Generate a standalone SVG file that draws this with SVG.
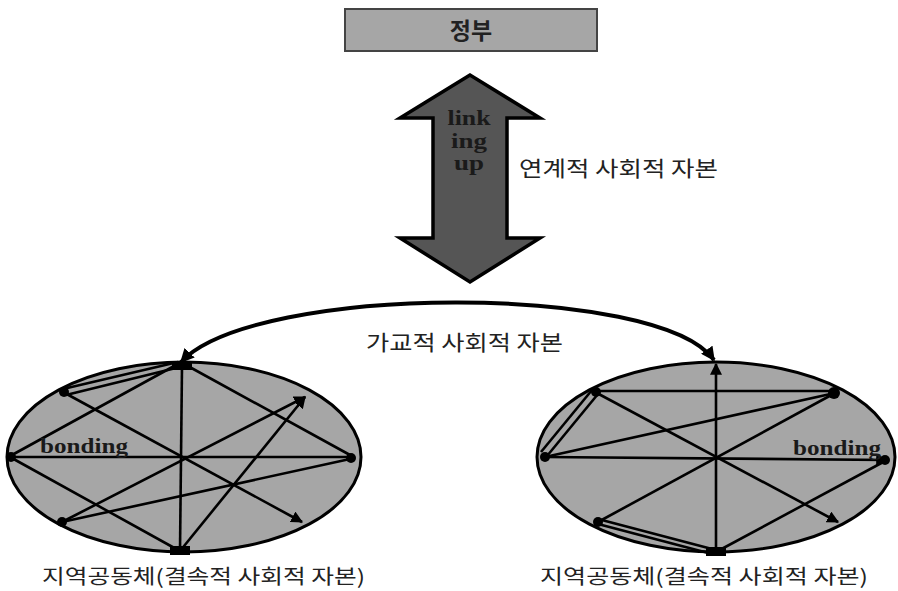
<svg xmlns="http://www.w3.org/2000/svg" width="898" height="591" viewBox="0 0 898 591">
<style>
.kr{font-family:"Noto Sans CJK KR","Noto Sans",sans-serif;fill:#222;}
.en{font-family:"Liberation Serif","DejaVu Serif",serif;font-weight:bold;fill:#1a1a1a;}
.ln{stroke:#000;stroke-width:2.6;fill:none;}
.ell{fill:#a6a6a6;stroke:#000;stroke-width:3;}
.blob{fill:#000;}
</style>
<defs>
<marker id="ah" viewBox="0 0 10 10" refX="9" refY="5" markerWidth="12" markerHeight="12" markerUnits="userSpaceOnUse" orient="auto">
<path d="M0,0 L10,5 L0,10 Z" fill="#000"/>
</marker>
<marker id="ah2" viewBox="0 0 10 10" refX="9" refY="5" markerWidth="14" markerHeight="14" markerUnits="userSpaceOnUse" orient="auto-start-reverse">
<path d="M0,0 L10,5 L0,10 Z" fill="#000"/>
</marker>
</defs>
<rect width="898" height="591" fill="#fff"/>

<g id="gov">
<rect x="345" y="9" width="252" height="42" fill="#a6a6a6" stroke="#444" stroke-width="2"/>
<text x="471" y="39" text-anchor="middle" class="kr" font-size="23" font-weight="bold" fill="#111">정부</text>
</g>

<g id="linking">
<polygon points="470,75 400,118 433,118 433,238 400,238 470,282 540,238 507,238 507,118 540,118" fill="#555" stroke="#000" stroke-width="3.5" stroke-linejoin="miter"/>
<text x="469" y="125" text-anchor="middle" class="en" font-size="21" textLength="43" lengthAdjust="spacingAndGlyphs">link</text>
<text x="469" y="148" text-anchor="middle" class="en" font-size="21" textLength="36" lengthAdjust="spacingAndGlyphs">ing</text>
<text x="469" y="170" text-anchor="middle" class="en" font-size="21" textLength="30" lengthAdjust="spacingAndGlyphs">up</text>
<text x="519" y="176" class="kr" font-size="21" textLength="199" lengthAdjust="spacingAndGlyphs">연계적 사회적 자본</text>
</g>

<g id="connectors">
<path d="M181,362 C255,283 660,283 714,360" stroke="#000" stroke-width="4" fill="none" marker-start="url(#ah2)" marker-end="url(#ah2)"/>
</g>
<text x="366" y="350" class="kr" font-size="21" textLength="197" lengthAdjust="spacingAndGlyphs">가교적 사회적 자본</text>

<g id="community-left">
<ellipse cx="184" cy="457" rx="177" ry="95" class="ell"/>
<line x1="182" y1="366" x2="180" y2="551" class="ln"/>
<line x1="10" y1="457" x2="352" y2="457" class="ln"/>
<line x1="178" y1="362" x2="63" y2="389" class="ln"/>
<line x1="180" y1="367" x2="66" y2="395" class="ln"/>
<line x1="176" y1="365" x2="12" y2="455" class="ln"/>
<line x1="63" y1="392" x2="302" y2="522" class="ln" marker-end="url(#ah)"/>
<line x1="186" y1="365" x2="350" y2="455" class="ln"/>
<line x1="62" y1="522" x2="305" y2="397" class="ln" marker-end="url(#ah)"/>
<line x1="180" y1="551" x2="305" y2="397" class="ln" marker-end="url(#ah)"/>
<line x1="10" y1="457" x2="178" y2="550" class="ln"/>
<line x1="62" y1="522" x2="350" y2="459" class="ln"/>
<rect x="172" y="362" width="20" height="8" class="blob"/>
<circle cx="64" cy="392" r="5" class="blob"/>
<circle cx="11" cy="457" r="5" class="blob"/>
<circle cx="351" cy="458" r="5" class="blob"/>
<circle cx="62" cy="522" r="5" class="blob"/>
<rect x="170" y="546" width="20" height="9" class="blob"/>
<text x="40" y="453" class="en" font-size="20" textLength="88" lengthAdjust="spacingAndGlyphs">bonding</text>
<text x="42" y="584" class="kr" font-size="20" textLength="323" lengthAdjust="spacingAndGlyphs">지역공동체(결속적 사회적 자본)</text>
</g>

<g id="community-right">
<ellipse cx="716" cy="457" rx="179" ry="95" class="ell"/>
<line x1="716" y1="552" x2="716" y2="364" class="ln" marker-end="url(#ah)"/>
<line x1="545" y1="457" x2="887" y2="460" class="ln" marker-end="url(#ah)"/>
<line x1="595" y1="391" x2="835" y2="391" class="ln"/>
<line x1="592" y1="390" x2="541" y2="452" class="ln"/>
<line x1="598" y1="394" x2="547" y2="456" class="ln"/>
<line x1="595" y1="392" x2="838" y2="522" class="ln" marker-end="url(#ah)"/>
<line x1="545" y1="457" x2="835" y2="393" class="ln"/>
<line x1="598" y1="522" x2="835" y2="393" class="ln"/>
<line x1="598" y1="519" x2="712" y2="549" class="ln"/>
<line x1="598" y1="524" x2="712" y2="554" class="ln"/>
<line x1="716" y1="552" x2="887" y2="460" class="ln"/>
<circle cx="596" cy="392" r="5" class="blob"/>
<circle cx="834" cy="393" r="6" class="blob"/>
<circle cx="545" cy="457" r="5" class="blob"/>
<circle cx="885" cy="460" r="5" class="blob"/>
<circle cx="598" cy="522" r="5" class="blob"/>
<rect x="706" y="547" width="20" height="9" class="blob"/>
<text x="793" y="455" class="en" font-size="20" textLength="88" lengthAdjust="spacingAndGlyphs">bonding</text>
<text x="540" y="584" class="kr" font-size="20" textLength="328" lengthAdjust="spacingAndGlyphs">지역공동체(결속적 사회적 자본)</text>
</g>
</svg>
